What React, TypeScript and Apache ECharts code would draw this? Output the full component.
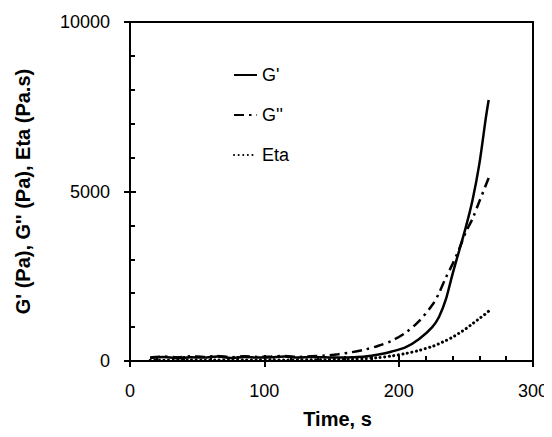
import React, { useEffect, useRef } from "react";
import * as echarts from "echarts";

const time = [15, 25, 35, 45, 55, 65, 75, 85, 95, 105, 115, 125, 135, 145, 155, 165, 175, 185, 195, 205, 215, 225, 230, 235, 240, 245, 250, 255, 260, 265, 267];
const gPrime = [90, 120, 80, 110, 100, 130, 90, 120, 100, 110, 130, 100, 120, 110, 100, 110, 130, 190, 280, 400, 640, 1000, 1300, 1800, 2550, 3250, 3950, 4750, 5800, 7200, 7700];
const gDouble = [100, 130, 110, 140, 120, 150, 110, 140, 120, 130, 150, 120, 140, 160, 200, 260, 340, 450, 600, 830, 1170, 1650, 2000, 2450, 2850, 3300, 3800, 4200, 4700, 5200, 5400];
const eta = [20, 25, 20, 30, 25, 30, 25, 30, 30, 35, 30, 35, 40, 40, 45, 50, 70, 100, 150, 220, 310, 430, 510, 600, 700, 820, 950, 1100, 1250, 1400, 1470];

const seriesNames = ["G'", "G''", "Eta"];
const xTitle = "Time, s";
const yTitle = "G' (Pa), G'' (Pa), Eta (Pa.s)";

const FONT = "'Liberation Sans', Arial, sans-serif";
const GRID_H = 437 - 22 - 76;
const GRID_W = 552 - 130 - 19;

export default function App() {
  const ref = useRef<HTMLDivElement>(null);
  useEffect(() => {
    if (!ref.current) return;
    const chart = echarts.init(ref.current, undefined, { renderer: "svg" });
    const pair = (ys: number[]) => time.map((t, i) => [t, ys[i]]);
    const ln = () => ({ show: true, onZero: false, lineStyle: { color: "#000", width: 2 } });
    const tk = () => ({ show: true, inside: false, length: 6, lineStyle: { color: "#000", width: 2 } });
    const minor = () => ({ show: true, splitNumber: 5, length: 5, lineStyle: { color: "#000", width: 2 } });
    const noLabel = { show: false };
    const xBase = { type: "value", min: 0, max: 300, interval: 100, splitLine: { show: false } };
    const yBase = { type: "value", min: 0, max: 10000, interval: 5000, splitLine: { show: false } };
    chart.setOption({
      animation: false,
      grid: { left: 130, right: 19, top: 22, bottom: 76 },
      legend: {
        orient: "vertical",
        left: 228,
        top: 61,
        itemWidth: 23,
        itemHeight: 12,
        itemGap: 22,
        data: seriesNames,
        itemStyle: { opacity: 0 },
        textStyle: { fontSize: 18, color: "#000", fontFamily: FONT },
      },
      xAxis: [
        {
          ...xBase,
          position: "bottom",
          axisLine: ln(),
          axisTick: tk(),
          axisLabel: { fontSize: 18, color: "#000", fontFamily: FONT, margin: 21, formatter: (v: number) => String(v) },
          name: xTitle,
          nameLocation: "middle",
          nameGap: 48,
          nameTextStyle: { fontSize: 20, fontWeight: "bold", color: "#000", fontFamily: FONT, padding: [0, 0, 0, 12] },
        },
        { ...xBase, position: "top", axisLine: ln(), axisTick: { show: false }, axisLabel: noLabel },
        { ...xBase, position: "top", offset: -GRID_H, axisLine: ln(), axisTick: tk(), minorTick: minor(), axisLabel: noLabel },
      ],
      yAxis: [
        {
          ...yBase,
          position: "left",
          axisLine: ln(),
          axisTick: tk(),
          axisLabel: { fontSize: 18, color: "#000", fontFamily: FONT, margin: 20, formatter: (v: number) => String(v) },
          name: yTitle,
          nameLocation: "middle",
          nameGap: 97,
          nameTextStyle: { fontSize: 20, fontWeight: "bold", color: "#000", fontFamily: FONT },
        },
        { ...yBase, position: "right", axisLine: ln(), axisTick: { show: false }, axisLabel: noLabel },
        { ...yBase, position: "right", offset: -GRID_W, axisLine: ln(), axisTick: tk(), minorTick: minor(), axisLabel: noLabel },
      ],
      series: [
        {
          name: seriesNames[0],
          type: "line",
          data: pair(gPrime),
          showSymbol: false,
          symbol: "none",
          smooth: 0.3,
          z: 5,
          lineStyle: { color: "#000", width: 2.5 },
          itemStyle: { color: "#000" },
        },
        {
          name: seriesNames[1],
          type: "line",
          data: pair(gDouble),
          showSymbol: false,
          symbol: "none",
          smooth: 0.3,
          z: 5,
          lineStyle: { color: "#000", width: 2.5, type: [10, 5, 2.5, 5] },
          itemStyle: { color: "#000" },
        },
        {
          name: seriesNames[2],
          type: "line",
          data: pair(eta),
          showSymbol: false,
          symbol: "none",
          smooth: 0.3,
          z: 5,
          lineStyle: { color: "#000", width: 3, type: [0.1, 4.5], cap: "round" },
          itemStyle: { color: "#000" },
        },
      ],
    });
    return () => chart.dispose();
  }, []);
  return <div ref={ref} style={{ width: 552, height: 437, margin: -8 }} />;
}
